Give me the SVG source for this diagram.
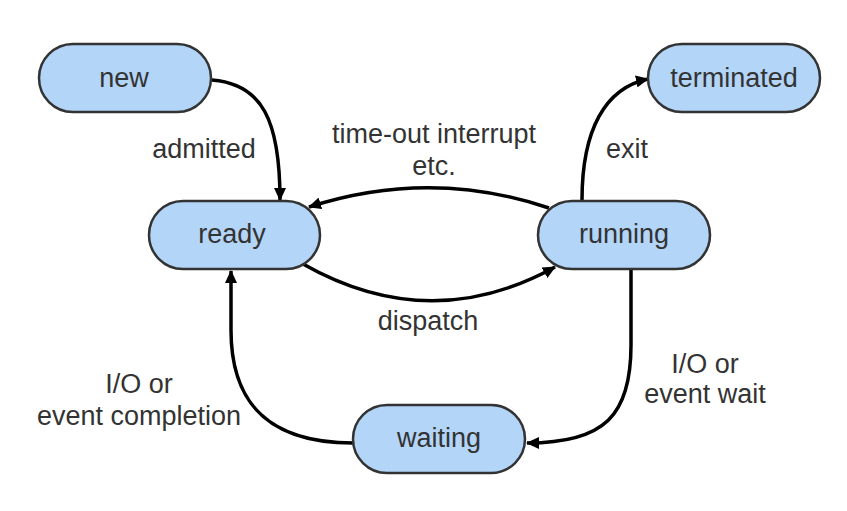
<svg xmlns="http://www.w3.org/2000/svg" width="847" height="511" viewBox="0 0 847 511">
<style>
.node rect{fill:#b3d5f8;stroke:#333;stroke-width:2.5}
text{font-family:"Liberation Sans",Arial,sans-serif;font-size:27px;fill:#333;text-anchor:middle}
.edge{fill:none;stroke:#000;stroke-width:3.5}
</style>
<defs>
<marker id="arr" markerUnits="userSpaceOnUse" markerWidth="14" markerHeight="12" refX="12" refY="6" orient="auto">
<path d="M0,0 L13,6 L0,12 z" fill="#000"/>
</marker>
</defs>
<rect width="847" height="511" fill="#fff"/>
<g id="connectors">
<path class="edge" d="M212,80 C262,84 280,120 280,200" marker-end="url(#arr)"/>
<path class="edge" d="M549,208 Q430,168 309,207" marker-end="url(#arr)"/>
<path class="edge" d="M303,264 Q430,336 555,267" marker-end="url(#arr)"/>
<path class="edge" d="M582,200 C582,130 605,88 648,79" marker-end="url(#arr)"/>
<path class="edge" d="M631,269 L631,345 C631,415 605,443 527,443" marker-end="url(#arr)"/>
<path class="edge" d="M353,443 C270,443 231,405 231,330 L231,271" marker-end="url(#arr)"/>
<text x="204" y="158">admitted</text>
<text x="434" y="143">time-out interrupt</text>
<text x="434" y="175">etc.</text>
<text x="627" y="158">exit</text>
<text x="428" y="330">dispatch</text>
<text x="705" y="373">I/O or</text>
<text x="705" y="403">event wait</text>
<text x="139" y="393">I/O or</text>
<text x="139" y="425">event completion</text>
</g>
<g id="new" class="node"><rect x="39" y="44" width="172" height="68" rx="34"/><text x="124" y="87">new</text></g>
<g id="ready" class="node"><rect x="149" y="201" width="171" height="68" rx="34"/><text x="232" y="243">ready</text></g>
<g id="terminated" class="node"><rect x="648" y="44" width="172" height="68" rx="34"/><text x="734" y="87">terminated</text></g>
<g id="running" class="node"><rect x="538" y="201" width="172" height="68" rx="34"/><text x="624" y="243">running</text></g>
<g id="waiting" class="node"><rect x="353" y="405" width="172" height="68" rx="34"/><text x="439" y="447">waiting</text></g>
</svg>
